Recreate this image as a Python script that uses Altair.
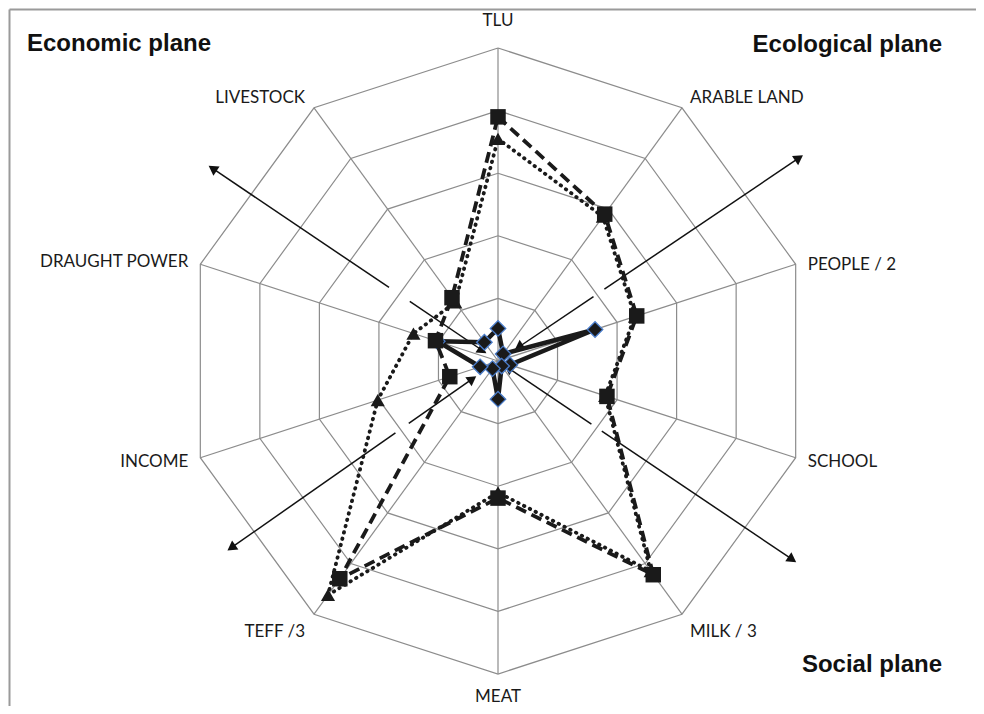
import numpy as np
import pandas as pd
import altair as alt

# ---------------- data ----------------
axes_labels = ["TLU", "ARABLE LAND", "PEOPLE / 2", "SCHOOL", "MILK / 3",
               "MEAT", "TEFF /3", "INCOME", "DRAUGHT POWER", "LIVESTOCK"]
squares = [3.9, 2.9, 2.33, 1.83, 4.22, 2.19, 4.3, 0.81, 1.05, 1.25]
triangles = [3.55, 2.85, 2.3, 1.8, 4.15, 2.1, 4.62, 2.02, 1.42, 1.16]
diamonds = [0.52, 0.14, 1.63, 0.2, 0.1, 0.61, 0.15, 0.3, 1.02, 0.37]
rings = [1, 2, 3, 4, 5]

# annotation arrows (direction in degrees clockwise from top, radii in scale units)
arrow_angles = [304, 56, 235, 124]
arrow_out_start = [2.1, 2.05, 2.0, 2.0]
arrow_out_end = [5.5, 5.8, 5.2, 5.67]
arrow_in_start = [1.7, 1.84, 1.74, 1.8]
arrow_in_end = [0.3, 0.4, 0.5, 0.2]

plane_titles = ["Economic plane", "Ecological plane", "Social plane"]

# ---------------- layout ----------------
N = len(axes_labels)
UNIT = 62.6            # px per scale unit
CX, CY = 498, 361      # page position of centre
W = 984 - 16
H = 714 - 16
left_px, top_px = 8, 8
xmin = -(CX - left_px) / UNIT
xmax = (left_px + W - CX) / UNIT
ymax = (CY - top_px) / UNIT
ymin = -(top_px + H - CY) / UNIT

xs = alt.Scale(domain=[xmin, xmax], nice=False, zero=False)
ys = alt.Scale(domain=[ymin, ymax], nice=False, zero=False)
X = lambda f="x": alt.X(f"{f}:Q", scale=xs, axis=None)
Y = lambda f="y": alt.Y(f"{f}:Q", scale=ys, axis=None)


def pol(r, deg):
    t = np.deg2rad(deg)
    return r * np.sin(t), r * np.cos(t)


# grid rings
grid_rows = []
for r in rings:
    for i in range(N + 1):
        x, y = pol(r, 360 * (i % N) / N)
        grid_rows.append({"ring": r, "o": i, "x": x, "y": y})
grid_df = pd.DataFrame(grid_rows)

spoke_rows = []
for k in range(N):
    x, y = pol(max(rings), 360 * k / N)
    spoke_rows.append({"x": 0.0, "y": 0.0, "x2": x, "y2": y})
spoke_df = pd.DataFrame(spoke_rows)

# series
def series_df(vals, name):
    rows = []
    for i in range(N + 1):
        k = i % N
        x, y = pol(vals[k], 360 * k / N)
        rows.append({"s": name, "o": i, "x": x, "y": y, "axis": axes_labels[k]})
    return pd.DataFrame(rows)

sq_df = series_df(squares, "sq")
tr_df = series_df(triangles, "tr")
di_df = series_df(diamonds, "di")

# arrows
arr_rows, head_rows = [], []
for a, s0, e0, s1, e1 in zip(arrow_angles, arrow_out_start, arrow_out_end,
                             arrow_in_start, arrow_in_end):
    x0, y0 = pol(s0, a); x1, y1 = pol(e0, a)
    arr_rows.append({"x": x0, "y": y0, "x2": x1, "y2": y1})
    head_rows.append({"x": x1, "y": y1, "ang": a % 360})
    x0, y0 = pol(s1, a); x1, y1 = pol(e1, a)
    arr_rows.append({"x": x0, "y": y0, "x2": x1, "y2": y1})
    head_rows.append({"x": x1, "y": y1, "ang": (a + 180) % 360})
arr_df = pd.DataFrame(arr_rows)
head_df = pd.DataFrame(head_rows)

# axis labels (offsets in px from outer vertex)
label_align = ["center", "left", "left", "left", "left",
               "center", "right", "right", "right", "right"]
label_off = [(0, -27), (8, -10), (12, 1), (12, 4), (8, 18),
             (0, 23), (-9, 18), (-12, 4), (-12, -2), (-9, -10)]
lab_rows = []
for k in range(N):
    x, y = pol(max(rings), 360 * k / N)
    dx, dy = label_off[k]
    lab_rows.append({"label": axes_labels[k], "al": label_align[k],
                     "x": x + dx / UNIT, "y": y - dy / UNIT})
lab_df = pd.DataFrame(lab_rows)

# ---------------- chart ----------------
GRID = "#8c8c8c"

grid = alt.Chart(grid_df).mark_line(stroke=GRID, strokeWidth=1.2).encode(
    x=X(), y=Y(), detail="ring:N", order="o:Q")
spokes = alt.Chart(spoke_df).mark_rule(stroke=GRID, strokeWidth=1.2).encode(
    x=X(), y=Y(), x2="x2:Q", y2="y2:Q")

arrows = alt.Chart(arr_df).mark_rule(stroke="#111", strokeWidth=1.5).encode(
    x=X(), y=Y(), x2="x2:Q", y2="y2:Q")
heads = alt.Chart(head_df).mark_point(shape="triangle-up", filled=True, fill="#111",
                                      size=120, opacity=1, strokeWidth=0).encode(
    x=X(), y=Y(), angle=alt.Angle("ang:Q", scale=None))

di_line = alt.Chart(di_df).mark_line(stroke="#1a1a1a", strokeWidth=4.5,
                                     strokeJoin="miter").encode(
    x=X(), y=Y(), order="o:Q")
di_pts = alt.Chart(di_df[di_df["o"] < N]).mark_point(
    shape="diamond", filled=True, fill="#1a1a1a", stroke="#4a7cc9",
    strokeWidth=1.3, size=240, opacity=1).encode(x=X(), y=Y())

tr_line = alt.Chart(tr_df).mark_line(stroke="#1a1a1a", strokeWidth=3.8,
                                     strokeDash=[0.5, 6], strokeCap="round").encode(
    x=X(), y=Y(), order="o:Q")
tr_pts = alt.Chart(tr_df[tr_df["o"] < N]).mark_point(
    shape="triangle-up", filled=True, fill="#1a1a1a", size=200,
    opacity=1, strokeWidth=0).encode(x=X(), y=Y())

sq_line = alt.Chart(sq_df).mark_line(stroke="#1a1a1a", strokeWidth=3.8,
                                     strokeDash=[11, 6]).encode(
    x=X(), y=Y(), order="o:Q")
sq_pts = alt.Chart(sq_df[sq_df["o"] < N]).mark_point(
    shape="square", filled=True, fill="#1a1a1a", size=240,
    opacity=1, strokeWidth=0).encode(x=X(), y=Y())

label_layers = []
for al in ["left", "center", "right"]:
    label_layers.append(
        alt.Chart(lab_df[lab_df["al"] == al]).mark_text(
            align=al, baseline="middle", font="Lato", fontSize=17,
            color="#1a1a1a").encode(x=X(), y=Y(), text="label:N"))

title_font = dict(font="Liberation Sans", fontSize=24, fontWeight="bold", color="#111")
t1 = alt.Chart(pd.DataFrame({"t": [plane_titles[0]]})).mark_text(
    align="left", baseline="alphabetic", **title_font).encode(
    x=alt.value(27 - left_px), y=alt.value(51 - top_px), text="t:N")
t2 = alt.Chart(pd.DataFrame({"t": [plane_titles[1]]})).mark_text(
    align="right", baseline="alphabetic", **title_font).encode(
    x=alt.value(942 - left_px), y=alt.value(52 - top_px), text="t:N")
t3 = alt.Chart(pd.DataFrame({"t": [plane_titles[2]]})).mark_text(
    align="right", baseline="alphabetic", **title_font).encode(
    x=alt.value(942 - left_px), y=alt.value(672 - top_px), text="t:N")

f0 = 1.5  # frame's top/left lines, just inside the canvas
frame_top = alt.Chart(pd.DataFrame({"a": [0]})).mark_rule(stroke="#9a9a9a", strokeWidth=2).encode(
    x=alt.value(f0), x2=alt.value(W), y=alt.value(f0), y2=alt.value(f0))
frame_left = alt.Chart(pd.DataFrame({"a": [0]})).mark_rule(stroke="#9a9a9a", strokeWidth=2).encode(
    x=alt.value(f0), x2=alt.value(f0), y=alt.value(f0), y2=alt.value(H))

chart = alt.layer(
    grid, spokes, arrows, heads,
    di_line, di_pts, tr_line, tr_pts, sq_line, sq_pts,
    *label_layers, t1, t2, t3, frame_top, frame_left
).properties(
    width=W, height=H,
    padding=0,
    autosize=alt.AutoSizeParams(type="none"),
    view=alt.ViewBackground(stroke="transparent", strokeWidth=0, fill="white"),
).configure_view(strokeWidth=0, stroke="transparent")

chart.save("out.html", embed_options={"renderer": "svg", "actions": False})
